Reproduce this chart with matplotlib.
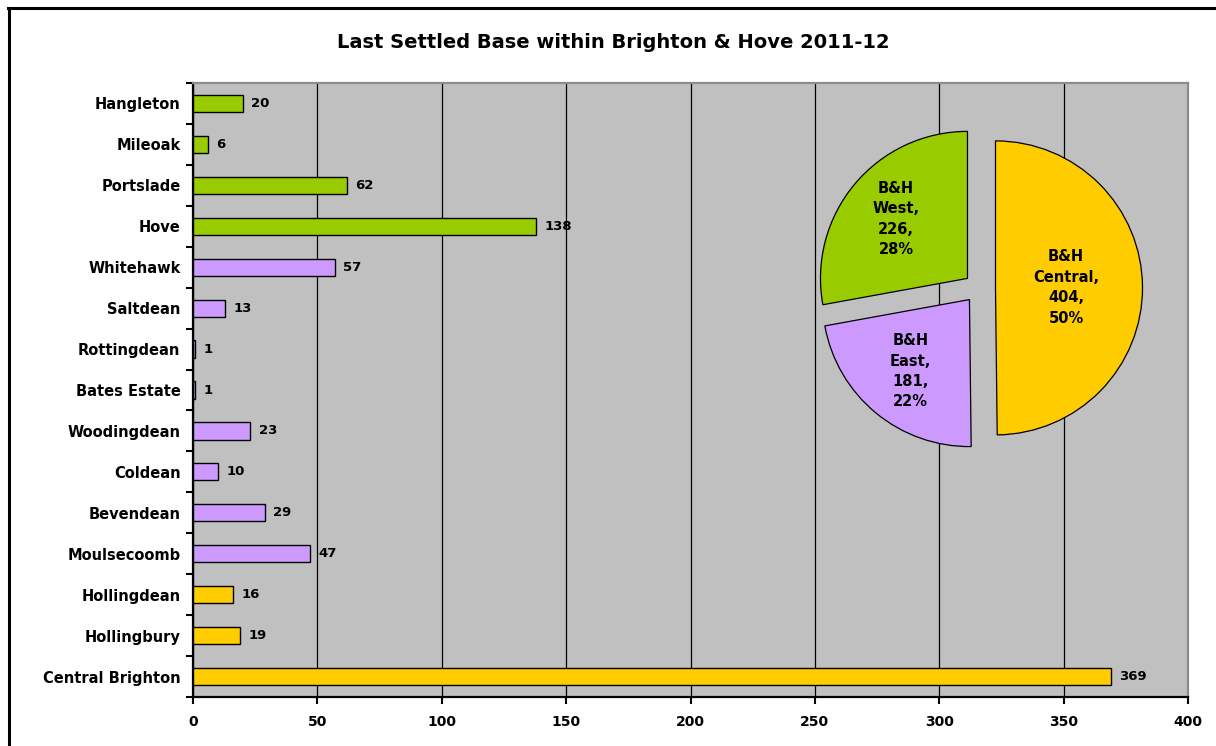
import matplotlib
matplotlib.use("Agg")
import matplotlib.pyplot as plt
import numpy as np
from matplotlib.lines import Line2D

# Wards and last settled base counts, 2011-12
wards = ["Hangleton", "Mileoak", "Portslade", "Hove",
         "Whitehawk", "Saltdean", "Rottingdean", "Bates Estate",
         "Woodingdean", "Coldean", "Bevendean", "Moulsecoomb",
         "Hollingdean", "Hollingbury", "Central Brighton"]
counts = [20, 6, 62, 138,
          57, 13, 1, 1, 23, 10, 29, 47,
          16, 19, 369]
areas = ["West", "West", "West", "West",
         "East", "East", "East", "East", "East", "East", "East", "East",
         "Central", "Central", "Central"]

area_order = ["Central", "East", "West"]
area_names = ["B&H\nCentral,", "B&H\nEast,", "B&H\nWest,"]
area_colors = {"West": "#99CC00", "East": "#CC99FF", "Central": "#FFCC00"}

x_ticks = [0, 50, 100, 150, 200, 250, 300, 350, 400]
title = "Last Settled Base within Brighton & Hove 2011-12"

W, H = 1216, 746
fig = plt.figure(figsize=(W / 100, H / 100), dpi=100)
fig.patch.set_facecolor("white")

# chart frame (top and left edges)
fig.add_artist(Line2D([8 / W, 1.0], [1 - 8 / H, 1 - 8 / H], color="black",
                      lw=2.2, transform=fig.transFigure))
fig.add_artist(Line2D([9 / W, 9 / W], [0, 1 - 8 / H], color="black",
                      lw=2.2, transform=fig.transFigure))

ax = fig.add_axes([193 / W, (H - 697) / H, (1188 - 193) / W, (697 - 83) / H])
ax.set_facecolor("#C0C0C0")

y = np.arange(len(wards))
bar_colors = [area_colors[a] for a in areas]
ax.barh(y, counts, height=0.42, color=bar_colors, edgecolor="black",
        linewidth=1.0, zorder=3)
for yi, v in zip(y, counts):
    ax.annotate(str(v), (v, yi), xytext=(6, 0), textcoords="offset points",
                va="center", ha="left", fontsize=9.5, fontweight="bold",
                color="black", zorder=4)

ax.set_xlim(0, 400)
ax.set_ylim(len(wards) - 0.5, -0.5)
ax.set_xticks(x_ticks)
ax.set_xticklabels([str(t) for t in x_ticks], fontsize=10, fontweight="bold")
ax.set_yticks(y)
ax.set_yticklabels(wards, fontsize=10.5, fontweight="bold")
ax.set_yticks(np.arange(-0.5, len(wards), 1.0), minor=True)
ax.tick_params(axis="y", which="major", length=0, pad=9)
ax.tick_params(axis="y", which="minor", length=5, width=1.5, direction="out")
ax.tick_params(axis="x", which="major", length=5, width=1.5, direction="out", pad=8)
ax.xaxis.grid(True, color="black", linewidth=0.9, zorder=1)
ax.set_axisbelow(True)

for side in ("left", "bottom"):
    ax.spines[side].set_color("black")
    ax.spines[side].set_linewidth(1.6)
for side in ("top", "right"):
    ax.spines[side].set_color("#8C8C8C")
    ax.spines[side].set_linewidth(1.6)

fig.text(613 / W, 1 - 42 / H, title, ha="center", va="center",
         fontsize=14, fontweight="bold")

# area totals shown as an exploded pie
totals = [sum(c for c, a in zip(counts, areas) if a == name) for name in area_order]
grand = sum(totals)

pax = fig.add_axes([(979 - 180) / W, (H - 288 - 180) / H, 360 / W, 360 / H])
pax.patch.set_visible(False)

wedges, _ = pax.pie(totals, colors=[area_colors[a] for a in area_order],
                    startangle=90, counterclock=False,
                    explode=[0.11, 0.1, 0.1], radius=0.98,
                    wedgeprops=dict(edgecolor="black", linewidth=0.9))
pax.set_xlim(-1.2, 1.2)
pax.set_ylim(-1.2, 1.2)
pax.set_aspect("equal")
pax.axis("off")

label_dist = [0.47, 0.62, 0.62]
for w, name, tot, d in zip(wedges, area_names, totals, label_dist):
    mid = np.deg2rad((w.theta1 + w.theta2) / 2)
    cx, cy = w.center
    pct = round(100 * tot / grand)
    pax.text(cx + d * np.cos(mid), cy + d * np.sin(mid),
             f"{name}\n{tot},\n{pct}%", ha="center", va="center",
             fontsize=10.5, fontweight="bold", linespacing=1.45)

fig.savefig("out.png", dpi=100, facecolor="white")
